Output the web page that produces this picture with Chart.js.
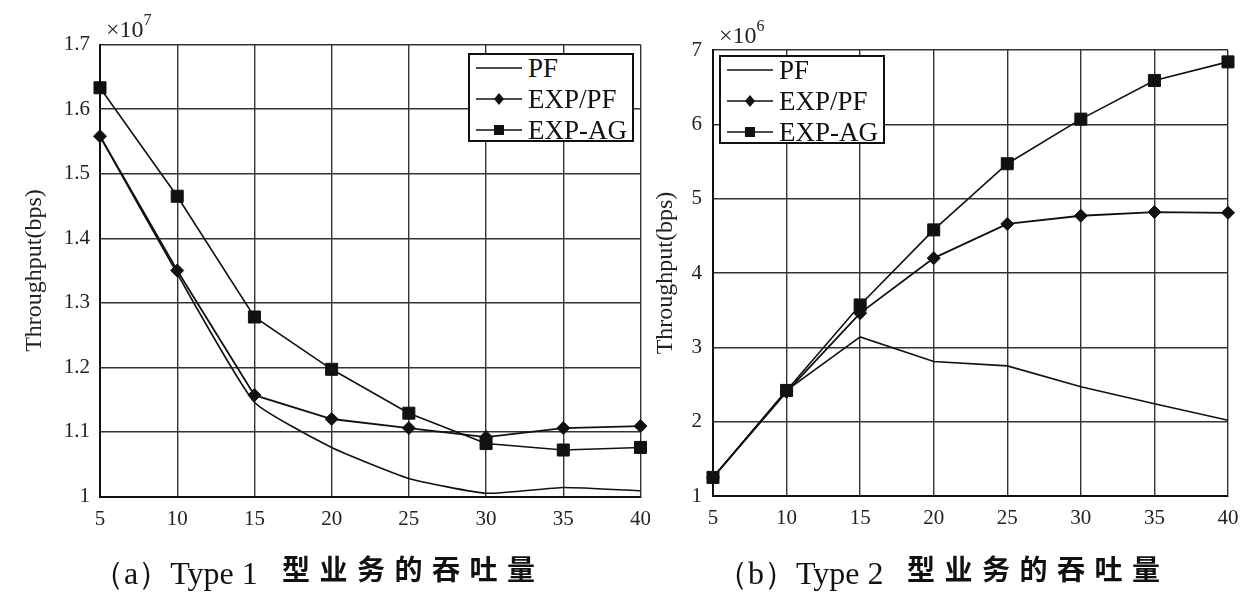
<!DOCTYPE html>
<html>
<head>
<meta charset="utf-8">
<script src="https://cdn.jsdelivr.net/npm/chart.js@4.4.1/dist/chart.umd.min.js"></script>
<style>
html,body{margin:0;padding:0;background:#fff;}
#page{position:relative;width:1251px;height:598px;overflow:hidden;background:#fff;}
.cw{position:absolute;top:0;height:598px;}
.legend{position:absolute;border:2px solid #111;background:#fff;box-sizing:border-box;
  font-family:'Liberation Serif','DejaVu Serif',serif;font-size:27px;color:#111;}
.row{position:absolute;left:6px;height:28px;display:flex;align-items:center;white-space:nowrap;}
.row svg{margin-right:6px;}
.expo{position:absolute;font-family:'Liberation Serif',serif;font-size:24px;color:#222;white-space:nowrap;}
.expo sup{font-size:16px;position:relative;top:-3px;}
.cap{position:absolute;white-space:nowrap;color:#111;}
.cap .lat{font-family:'Liberation Serif',serif;font-size:32px;}
.cap .cjk{font-family:'Noto Sans CJK SC',sans-serif;font-weight:700;font-size:28px;letter-spacing:9.5px;position:relative;top:-4px;}
</style>
</head>
<body>
<div id="page">
  <div class="cw" style="left:0;width:650px;"><canvas id="c1" width="650" height="598"></canvas></div>
  <div class="cw" style="left:650px;width:601px;"><canvas id="c2" width="601" height="598"></canvas></div>

  <div class="expo" style="left:106px;top:14px;">×10<sup>7</sup></div>
  <div class="expo" style="left:719px;top:20px;">×10<sup>6</sup></div>

  <div class="legend" id="lg1" style="left:468px;top:53px;width:166px;height:89px;"></div>
  <div class="legend" id="lg2" style="left:719px;top:55px;width:166px;height:89px;"></div>

  <div class="cap" style="left:92px;top:552px;"><span class="lat">（a）Type 1</span><span class="cjk" style="position:absolute;left:190px;">型业务的吞吐量</span></div>
  <div class="cap" style="left:716px;top:552px;"><span class="lat">（b）Type 2</span><span class="cjk" style="position:absolute;left:191px;">型业务的吞吐量</span></div>
</div>
<script>
// ---- data ----
const xValues = [5, 10, 15, 20, 25, 30, 35, 40];
const seriesNames = ['PF', 'EXP/PF', 'EXP-AG'];
// Type 1 throughput (x 10^7 bps)
const type1PF    = [1.558, 1.345, 1.146, 1.076, 1.028, 1.005, 1.014, 1.009];
const type1EXPPF = [1.558, 1.350, 1.157, 1.120, 1.106, 1.092, 1.106, 1.109];
const type1EXPAG = [1.633, 1.465, 1.278, 1.197, 1.129, 1.082, 1.072, 1.076];
// Type 2 throughput (x 10^6 bps)
const type2PF    = [1.25, 2.42, 3.14, 2.81, 2.75, 2.47, 2.24, 2.02];
const type2EXPPF = [1.25, 2.40, 3.46, 4.20, 4.66, 4.77, 4.82, 4.81];
const type2EXPAG = [1.25, 2.42, 3.57, 4.58, 5.47, 6.07, 6.59, 6.84];
const xTicks = [5, 10, 15, 20, 25, 30, 35, 40];
const yTicks1 = [1, 1.1, 1.2, 1.3, 1.4, 1.5, 1.6, 1.7];
const yTicks2 = [1, 2, 3, 4, 5, 6, 7];

const INK = '#111';
const GRID = '#333';
const serif = "'Liberation Serif', 'DejaVu Serif', serif";

function pts(ys){ return ys.map((y,i)=>({x:xValues[i], y})); }

function datasets(pf, expf, expag, pfTension){
  return [
    {label:seriesNames[0], data:pts(pf), borderColor:INK, borderWidth:1.6, pointRadius:0, tension:pfTension, clip:false},
    {label:seriesNames[1], data:pts(expf), borderColor:INK, backgroundColor:INK, borderWidth:1.8, pointStyle:'rectRot', pointRadius:6.5, pointBorderWidth:1, tension:0, clip:false},
    {label:seriesNames[2], data:pts(expag), borderColor:INK, backgroundColor:INK, borderWidth:1.6, pointStyle:'rect', pointRadius:8.5, pointBorderWidth:1, tension:0, clip:false}
  ];
}

function fmt(v){ return String(Math.round(v*10)/10); }

function makeChart(id, ds, yT, cfg){
  return new Chart(document.getElementById(id), {
    type:'line',
    data:{datasets:ds},
    options:{
      responsive:false, animation:false, devicePixelRatio:1,
      layout:{padding:{left:0, right:cfg.padRight, top:cfg.padTop, bottom:0}},
      plugins:{legend:{display:false}, tooltip:{enabled:false}},
      scales:{
        x:{type:'linear', min:xTicks[0], max:xTicks[xTicks.length-1],
          afterBuildTicks:s=>{ s.ticks = xTicks.map(v=>({value:v})); },
          afterFit:s=>{ s.height = cfg.xHeight; s.paddingLeft = 0; s.paddingRight = 0; },
          grid:{color:GRID, lineWidth:1.4, drawTicks:false},
          border:{color:INK, width:2},
          ticks:{padding:10, color:'#222', font:{family:serif, size:21}, maxRotation:0, callback:v=>String(v)}
        },
        y:{type:'linear', min:yT[0], max:yT[yT.length-1],
          afterBuildTicks:s=>{ s.ticks = yT.map(v=>({value:v})); },
          afterFit:s=>{ s.width = cfg.yWidth; s.paddingTop = 0; s.paddingBottom = 0; },
          grid:{color:GRID, lineWidth:1.4, drawTicks:false},
          border:{color:INK, width:2},
          ticks:{padding:cfg.yPad, color:'#222', font:{family:serif, size:21}, callback:v=>fmt(v)},
          title:{display:true, text:'Throughput(bps)', color:'#222', font:{family:serif, size:24}, padding:{top:cfg.titlePad, bottom:0}}
        }
      }
    }
  });
}

const ch1 = makeChart('c1', datasets(type1PF, type1EXPPF, type1EXPAG, 0.15), yTicks1,
  {padRight:9, padTop:44.5, xHeight:101.5, yWidth:100, yPad:10, titlePad:20});
const ch2 = makeChart('c2', datasets(type2PF, type2EXPPF, type2EXPAG, 0), yTicks2,
  {padRight:23, padTop:50, xHeight:102, yWidth:63, yPad:11, titlePad:1});

// ---- legends built from dataset styles ----
function buildLegend(el, chart){
  chart.data.datasets.forEach((d, i)=>{
    const row = document.createElement('div');
    row.className = 'row';
    row.style.top = (-1 + i*31) + 'px';
    let marker = '';
    if (d.pointStyle === 'rectRot') marker = '<polygon points="23,4 28,10 23,16 18,10" fill="#111"/>';
    else if (d.pointStyle === 'rect') marker = '<rect x="18" y="5" width="10" height="10" fill="#111"/>';
    row.innerHTML = '<svg width="46" height="20"><line x1="0" y1="10" x2="46" y2="10" stroke="#111" stroke-width="1.6"/>' + marker + '</svg><span>' + d.label + '</span>';
    el.appendChild(row);
  });
}
buildLegend(document.getElementById('lg1'), ch1);
buildLegend(document.getElementById('lg2'), ch2);
</script>
</body>
</html>
